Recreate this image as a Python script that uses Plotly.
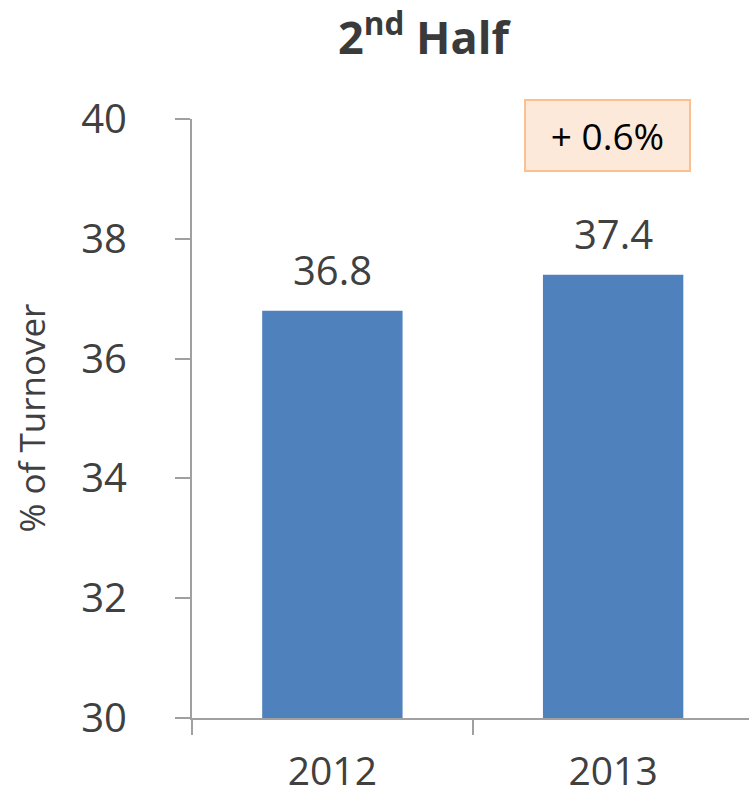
import plotly.graph_objects as go

# Share of turnover, second half of the year
years = ["2012", "2013"]
share = [36.8, 37.4]
change_label = "+ 0.6%"
y_ticks = [30, 32, 34, 36, 38, 40]

FONT = "Open Sans"
TEXT = "#404040"
AXIS = "#A0A0A0"
BAR = "#4F81BD"

fig = go.Figure()
fig.add_trace(go.Bar(
    x=years, y=share, width=0.5,
    marker=dict(color=BAR, line=dict(width=0)),
    hoverinfo="x+y",
))

# value labels above each bar (category index on the x axis)
for i, v in enumerate(share):
    fig.add_annotation(
        xref="x", yref="y", x=i, y=v, text=f"{v:.1f}", showarrow=False,
        xanchor="center", yanchor="bottom", yshift=12,
        font=dict(family=FONT, size=40, color=TEXT),
    )

# change callout
fig.add_annotation(
    xref="paper", yref="paper", x=0.746, y=0.9725,
    text=change_label, showarrow=False,
    xanchor="center", yanchor="middle",
    width=163, height=69, borderpad=0, borderwidth=2,
    bgcolor="#FDE9D9", bordercolor="#FAC090",
    font=dict(family=FONT, size=37, color="#000000"),
)

# chart title
fig.add_annotation(
    xref="paper", yref="paper", x=(424 - 192) / 557, y=1.0, yshift=85,
    text="<b>2<sup>nd</sup> Half</b>", showarrow=False,
    xanchor="center", yanchor="middle",
    font=dict(family=FONT, size=45, color="#3A3A3A"),
)

# y-axis title
fig.add_annotation(
    xref="paper", yref="paper", x=-0.289, y=0.5,
    text="% of Turnover", showarrow=False, textangle=-90,
    xanchor="center", yanchor="middle",
    font=dict(family=FONT, size=35, color=TEXT),
)

fig.update_layout(
    width=749, height=800,
    margin=dict(l=192, r=0, t=119, b=82, autoexpand=False),
    paper_bgcolor="white", plot_bgcolor="white",
    showlegend=False,
    font=dict(family=FONT, color=TEXT),
    bargap=0.5,
)
fig.update_xaxes(
    type="category", range=[-0.5, 1.484], automargin=False,
    showline=True, linecolor=AXIS, linewidth=2,
    ticks="outside", tickson="boundaries", ticklen=15, tickwidth=2, tickcolor=AXIS,
    tickfont=dict(family=FONT, size=39, color=TEXT),
    ticklabelstandoff=18,
    showgrid=False, zeroline=False,
)
fig.update_yaxes(
    range=[30, 40], tickvals=y_ticks, automargin=False,
    showline=True, linecolor=AXIS, linewidth=2,
    ticks="outside", ticklen=15, tickwidth=2, tickcolor=AXIS,
    tickfont=dict(family=FONT, size=40, color=TEXT),
    ticklabelstandoff=40,
    showgrid=False, zeroline=False,
)

fig.write_html("out.html")
